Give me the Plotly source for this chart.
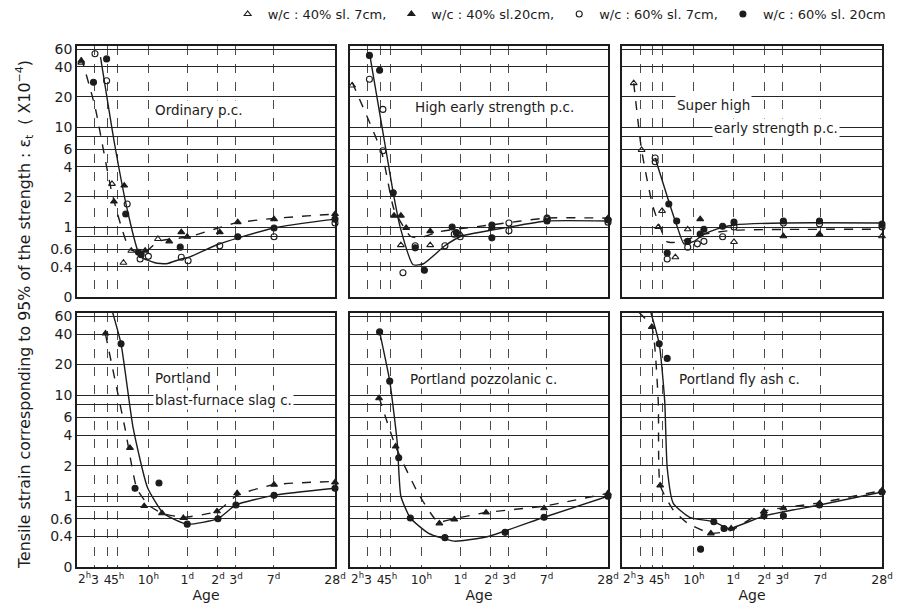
import math
import plotly.graph_objects as go

# ---------------- axis ticks ----------------
AGE_TICKS = [2, 3, 4, 5, 10, 24, 48, 72, 168, 672]          # hours
AGE_TEXT = ["2<sup>h</sup>", "3", "4", "5<sup>h</sup>", "10<sup>h</sup>", "1<sup>d</sup>",
            "2<sup>d</sup>", "3<sup>d</sup>", "7<sup>d</sup>", "28<sup>d</sup>"]
STRAIN_TICKS = [0.2, 0.4, 0.6, 0.8, 1, 2, 4, 6, 8, 10, 20, 40, 60]
STRAIN_TEXT = ["0", "0.4", "0.6", "", "1", "2", "4", "6", "", "10", "20", "40", "60"]

SERIES_NAMES = ["w/c : 40% sl. 7cm,", "w/c : 40% sl.20cm,", "w/c : 60% sl. 7cm,", "w/c : 60% sl. 20cm"]

# ---------------- Ordinary p.c. ----------------
ORD_T7_AGE = [4.4, 5.7, 6.8, 12.4, 2.2]
ORD_T7_VAL = [2.7, 0.44, 0.58, 0.76, 44]
ORD_T20_AGE = [2.2, 4.6, 5.8, 9.3, 16, 21, 24, 50, 75, 170, 672]
ORD_T20_VAL = [46, 1.8, 2.6, 0.58, 0.72, 0.89, 0.8, 0.89, 1.12, 1.2, 1.35]
ORD_C7_AGE = [3.0, 3.9, 6.2, 8.3, 10, 21, 24.5, 50, 170, 672]
ORD_C7_VAL = [54, 29, 1.7, 0.48, 0.51, 0.5, 0.46, 0.65, 0.8, 1.1]
ORD_C20_AGE = [2.9, 3.9, 6.0, 8.0, 8.5, 20.5, 75, 170, 672]
ORD_C20_VAL = [28, 48, 1.35, 0.56, 0.53, 0.63, 0.8, 0.98, 1.2]
ORD_DASH_AGE = [2.2, 3.0, 4.4, 6.6, 9.3, 12.4, 25, 72, 168, 672]
ORD_DASH_VAL = [50, 16, 2.2, 0.6, 0.56, 0.72, 0.8, 1.1, 1.22, 1.35]
ORD_SOLID_AGE = [3.4, 4.7, 6.3, 8.3, 11.6, 15, 21, 25, 48, 168, 672]
ORD_SOLID_VAL = [50, 6.5, 1.4, 0.51, 0.44, 0.43, 0.48, 0.5, 0.67, 0.98, 1.2]

# ---------------- High early strength p.c. ----------------
HES_T7_AGE = [2.1, 6.3, 12.2, 24, 170]
HES_T7_VAL = [26, 0.66, 0.66, 0.85, 1.23]
HES_T20_AGE = [5.4, 6.3, 7.1, 12.2, 49, 672]
HES_T20_VAL = [1.3, 1.3, 0.98, 0.91, 0.98, 1.23]
HES_C7_AGE = [3.1, 4.2, 4.2, 6.6, 8.7, 17, 21, 24, 72, 72, 170, 672]
HES_C7_VAL = [30, 15, 5.8, 0.35, 0.65, 0.65, 0.85, 0.8, 1.1, 0.92, 1.23, 1.12]
HES_C20_AGE = [3.1, 3.9, 5.3, 8.7, 10.7, 20, 22, 49, 49, 170, 672]
HES_C20_VAL = [52, 37, 2.2, 0.62, 0.37, 1.0, 0.88, 1.05, 0.78, 1.15, 1.18]
HES_DASH_AGE = [2.1, 4.1, 5.4, 7.8, 9.6, 15, 48, 168, 672]
HES_DASH_VAL = [28, 5.5, 1.5, 0.81, 0.78, 0.9, 1.05, 1.23, 1.23]
HES_SOLID_AGE = [3.1, 5.3, 6.2, 8.3, 10.5, 17, 24.5, 72, 168, 672]
HES_SOLID_VAL = [55, 2.2, 1.0, 0.42, 0.43, 0.65, 0.81, 1.0, 1.15, 1.15]

# ---------------- Super high early strength p.c. ----------------
SHE_T7_AGE = [2.6, 3.1, 4.5, 4.9, 6.6, 8.7, 24.5, 672]
SHE_T7_VAL = [27.5, 5.9, 1.0, 1.45, 0.5, 0.95, 0.71, 0.81]
SHE_T20_AGE = [11.5, 74, 166]
SHE_T20_VAL = [1.2, 0.81, 0.85]
SHE_C7_AGE = [4.2, 4.2, 5.5, 8.7, 10.8, 12.5, 19, 24.5, 74, 166, 672]
SHE_C7_VAL = [4.9, 4.5, 0.48, 0.63, 0.68, 0.72, 0.8, 1.0, 1.1, 1.08, 1.0]
SHE_C20_AGE = [5.7, 6.8, 5.5, 8.7, 11.5, 12.5, 19, 24.5, 74, 166, 672]
SHE_C20_VAL = [1.7, 1.15, 0.55, 0.72, 0.85, 0.95, 1.02, 1.12, 1.15, 1.15, 1.07]
SHE_DASH_AGE = [2.6, 3.1, 4.0, 5.5, 7.1, 12.5, 24.5, 672]
SHE_DASH_VAL = [27.5, 5.9, 1.6, 0.71, 0.71, 0.85, 0.93, 0.95]
SHE_SOLID_AGE = [4.2, 5.7, 6.9, 8.0, 10, 12.5, 19, 24.5, 74, 672]
SHE_SOLID_VAL = [4.9, 1.8, 1.0, 0.68, 0.72, 0.85, 1.0, 1.05, 1.1, 1.1]

# ---------------- Portland blast-furnace slag c. ----------------
SLG_T20_AGE = [3.8, 6.6, 9.1, 13.6, 22, 47, 74, 170, 672]
SLG_T20_VAL = [40.5, 3.0, 0.8, 0.68, 0.61, 0.71, 1.07, 1.3, 1.37]
SLG_C20_AGE = [4.4, 5.4, 7.4, 12.7, 24, 48, 72, 170, 672]
SLG_C20_VAL = [69, 32, 1.2, 1.35, 0.53, 0.6, 0.82, 1.02, 1.2]
SLG_DASH_AGE = [3.8, 5.9, 7.7, 10, 13.6, 22, 47, 74, 168, 672]
SLG_DASH_VAL = [40, 4.7, 1.2, 0.82, 0.68, 0.62, 0.71, 1.02, 1.3, 1.4]
SLG_SOLID_AGE = [4.4, 5.4, 7.1, 9.8, 14, 24, 48, 72, 168, 672]
SLG_SOLID_VAL = [69, 32, 4.7, 1.22, 0.68, 0.53, 0.6, 0.82, 1.02, 1.2]

# ---------------- Portland pozzolanic c. ----------------
POZ_T20_AGE = [3.85, 5.6, 15, 21, 43, 159, 672]
POZ_T20_VAL = [9.3, 3.1, 0.54, 0.59, 0.69, 0.76, 1.07]
POZ_C20_AGE = [3.9, 4.9, 6.0, 7.8, 17, 66, 159, 672]
POZ_C20_VAL = [42, 13.7, 2.4, 0.61, 0.39, 0.44, 0.62, 1.0]
POZ_DASH_AGE = [3.85, 5.6, 9.3, 14.5, 21, 43, 159, 672]
POZ_DASH_VAL = [9.5, 3.1, 1.07, 0.56, 0.6, 0.69, 0.8, 1.07]
POZ_SOLID_AGE = [3.9, 4.9, 5.8, 6.3, 7.8, 11.8, 21, 45, 159, 672]
POZ_SOLID_VAL = [42, 13.7, 3.4, 1.0, 0.61, 0.43, 0.36, 0.4, 0.62, 1.0]

# ---------------- Portland fly ash c. ----------------
FLY_T20_AGE = [2.9, 3.9, 4.7, 14.6, 23, 48, 74, 166, 672]
FLY_T20_VAL = [66, 47, 1.28, 0.43, 0.48, 0.71, 0.76, 0.85, 1.14]
FLY_C20_AGE = [3.6, 4.6, 5.5, 11.6, 15.6, 19.6, 48, 74, 166, 672]
FLY_C20_VAL = [80, 32, 23, 0.3, 0.56, 0.48, 0.64, 0.64, 0.82, 1.1]
FLY_DASH_AGE = [2.9, 3.9, 4.5, 4.7, 6.3, 8.7, 14.6, 23, 48, 166, 672]
FLY_DASH_VAL = [66, 47, 8.7, 1.28, 0.73, 0.54, 0.43, 0.46, 0.71, 0.86, 1.14]
FLY_SOLID_AGE = [3.6, 4.6, 5.2, 5.5, 6.3, 9.1, 15.6, 22, 48, 166, 672]
FLY_SOLID_VAL = [80, 32, 8.7, 1.9, 0.85, 0.62, 0.56, 0.48, 0.64, 0.82, 1.1]

PANEL_TITLES = [
    ["Ordinary p.c."],
    ["High early strength p.c."],
    ["Super high", "early strength p.c."],
    ["Portland", "blast-furnace slag c."],
    ["Portland pozzolanic c."],
    ["Portland fly ash c."],
]

# ---------------- assemble ----------------
EMPTY = ([], [])
panels = [
    dict(series=[(ORD_T7_AGE, ORD_T7_VAL), (ORD_T20_AGE, ORD_T20_VAL), (ORD_C7_AGE, ORD_C7_VAL), (ORD_C20_AGE, ORD_C20_VAL)],
         dash=(ORD_DASH_AGE, ORD_DASH_VAL), solid=(ORD_SOLID_AGE, ORD_SOLID_VAL)),
    dict(series=[(HES_T7_AGE, HES_T7_VAL), (HES_T20_AGE, HES_T20_VAL), (HES_C7_AGE, HES_C7_VAL), (HES_C20_AGE, HES_C20_VAL)],
         dash=(HES_DASH_AGE, HES_DASH_VAL), solid=(HES_SOLID_AGE, HES_SOLID_VAL)),
    dict(series=[(SHE_T7_AGE, SHE_T7_VAL), (SHE_T20_AGE, SHE_T20_VAL), (SHE_C7_AGE, SHE_C7_VAL), (SHE_C20_AGE, SHE_C20_VAL)],
         dash=(SHE_DASH_AGE, SHE_DASH_VAL), solid=(SHE_SOLID_AGE, SHE_SOLID_VAL)),
    dict(series=[EMPTY, (SLG_T20_AGE, SLG_T20_VAL), EMPTY, (SLG_C20_AGE, SLG_C20_VAL)],
         dash=(SLG_DASH_AGE, SLG_DASH_VAL), solid=(SLG_SOLID_AGE, SLG_SOLID_VAL)),
    dict(series=[EMPTY, (POZ_T20_AGE, POZ_T20_VAL), EMPTY, (POZ_C20_AGE, POZ_C20_VAL)],
         dash=(POZ_DASH_AGE, POZ_DASH_VAL), solid=(POZ_SOLID_AGE, POZ_SOLID_VAL)),
    dict(series=[EMPTY, (FLY_T20_AGE, FLY_T20_VAL), EMPTY, (FLY_C20_AGE, FLY_C20_VAL)],
         dash=(FLY_DASH_AGE, FLY_DASH_VAL), solid=(FLY_SOLID_AGE, FLY_SOLID_VAL)),
]

INK = "#1c1c1c"
FONT = "DejaVu Sans"
SYMBOLS = ["triangle-up-open", "triangle-up", "circle-open", "circle"]

W, H = 898, 613
ML, MR, MT, MB = 77, 16, 46, 46
PW, PH = W - ML - MR, H - MT - MB
COLS_PX = [(77, 335), (350, 608), (622, 882)]
ROWS_PX = [(46, 297), (313, 567)]


def xdom(c):
    a, b = COLS_PX[c]
    return [(a - ML) / PW, (b - ML) / PW]


def ydom(r):
    a, b = ROWS_PX[r]
    return [(H - MB - b) / PH, (H - MB - a) / PH]


fig = go.Figure()
layout = {}
annotations = []

for i, p in enumerate(panels):
    r, c = divmod(i, 3)
    sfx = "" if i == 0 else str(i + 1)
    xa, ya = "x" + sfx, "y" + sfx
    # curves
    fig.add_trace(go.Scatter(x=p["dash"][0], y=p["dash"][1], mode="lines", xaxis=xa, yaxis=ya,
                             line=dict(color=INK, width=1.4, dash="dash", shape="spline", smoothing=0.5),
                             showlegend=False, hoverinfo="skip", cliponaxis=False))
    fig.add_trace(go.Scatter(x=p["solid"][0], y=p["solid"][1], mode="lines", xaxis=xa, yaxis=ya,
                             line=dict(color=INK, width=1.4, shape="spline", smoothing=0.5),
                             showlegend=False, hoverinfo="skip", cliponaxis=False))
    for k, (ax_, vy) in enumerate(p["series"]):
        fig.add_trace(go.Scatter(x=ax_, y=vy, mode="markers", xaxis=xa, yaxis=ya,
                                 name=SERIES_NAMES[k], legendgroup=SERIES_NAMES[k],
                                 showlegend=(i == 0), cliponaxis=False,
                                 marker=dict(symbol=SYMBOLS[k], size=6, color=INK,
                                             line=dict(color=INK, width=1.1))))

    # first age label ("2h") sits just right of the left frame, as in the original
    axis_text = [""] + AGE_TEXT[1:]
    layout["xaxis" + sfx] = dict(
        type="log", range=[math.log10(AGE_TICKS[0]), math.log10(AGE_TICKS[-1])], domain=xdom(c), anchor=ya,
        tickvals=AGE_TICKS, ticktext=axis_text, showticklabels=(r == 1), ticks="", tickangle=0,
        tickfont=dict(family=FONT, size=12.5, color=INK),
        showgrid=True, gridcolor="#4a4a4a", gridwidth=1, griddash="dash",
        showline=True, linecolor=INK, linewidth=1.6, mirror=True, zeroline=False,
        title=dict(text="Age" if r == 1 else "", font=dict(family=FONT, size=14, color=INK), standoff=4),
    )
    if r == 1:
        annotations.append(dict(
            text=AGE_TEXT[0], xref=xa + " domain", yref=ya + " domain", x=0, y=0,
            xanchor="left", yanchor="top", xshift=0, yshift=-2, borderpad=0, showarrow=False,
            font=dict(family=FONT, size=12, color=INK)))
    layout["yaxis" + sfx] = dict(
        type="log", range=[math.log10(0.2), 1.81], domain=ydom(r), anchor=xa,
        tickvals=STRAIN_TICKS, ticktext=STRAIN_TEXT, showticklabels=(c == 0), ticks="",
        tickfont=dict(family=FONT, size=14, color=INK),
        showgrid=True, gridcolor="#262626", gridwidth=1.3,
        showline=True, linecolor=INK, linewidth=1.6, mirror=True, zeroline=False,
    )

    # panel titles (pixel positions, relative to the panel)
    title_px = {
        0: [(153, 110)], 1: [(413, 107)], 2: [(675, 105), (712, 128)],
        3: [(153, 378), (153, 400)], 4: [(408, 379)], 5: [(677, 379)],
    }[i]
    x0, x1 = COLS_PX[c]
    y0, y1 = ROWS_PX[r]
    for txt, (px, py) in zip(PANEL_TITLES[i], title_px):
        annotations.append(dict(
            text=txt, xref=xa + " domain", yref=ya + " domain",
            x=(px - x0) / (x1 - x0), y=(y1 - py) / (y1 - y0), xanchor="left", yanchor="middle",
            showarrow=False, bgcolor="white", borderpad=1,
            font=dict(family=FONT, size=13.5, color=INK)))

annotations.append(dict(
    text="Tensile strain corresponding to 95% of the strength : ε<sub>t</sub>  ( X10<sup>−4</sup>)",
    xref="paper", yref="paper", x=(24 - ML) / PW, y=(H - MB - 315) / PH,
    textangle=-90, showarrow=False, xanchor="center", yanchor="middle",
    font=dict(family=FONT, size=15.8, color=INK)))

fig.update_layout(
    width=W, height=H, margin=dict(l=ML, r=MR, t=MT, b=MB, autoexpand=False),
    paper_bgcolor="white", plot_bgcolor="white",
    annotations=annotations,
    legend=dict(orientation="h", x=1.012, xanchor="right", y=1 + 32 / PH, yanchor="middle",
                font=dict(family=FONT, size=13, color=INK), itemwidth=30,
                bgcolor="rgba(0,0,0,0)", tracegroupgap=0),
    **layout,
)

fig.write_html("out.html")
